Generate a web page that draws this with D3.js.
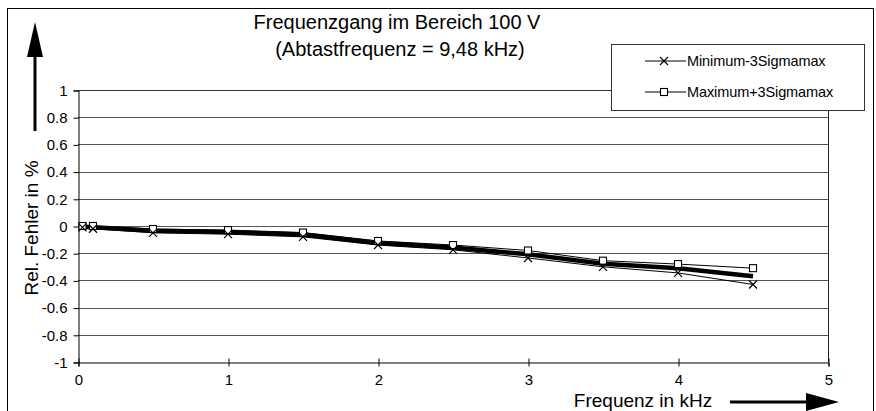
<!DOCTYPE html>
<html><head><meta charset="utf-8">
<script src="https://cdn.jsdelivr.net/npm/d3@7"></script>
<style>body{margin:0;background:#fff}svg{display:block;font-family:"Liberation Sans",Arial,sans-serif}</style>
</head><body><svg id="c" width="876" height="411"></svg>
<script>
const freqs = [0.03, 0.1, 0.5, 1, 1.5, 2, 2.5, 3, 3.5, 4, 4.5];
const minVals = [-0.01, -0.02, -0.05, -0.06, -0.08, -0.14, -0.175, -0.235, -0.3, -0.345, -0.43];
const maxVals = [0, 0, -0.022, -0.03, -0.048, -0.11, -0.14, -0.18, -0.255, -0.28, -0.31];
const meanVals = [-0.005, -0.01, -0.035, -0.045, -0.062, -0.125, -0.158, -0.208, -0.278, -0.31, -0.37];
const yTicks = [1, 0.8, 0.6, 0.4, 0.2, 0, -0.2, -0.4, -0.6, -0.8, -1];
const xTicks = [0, 1, 2, 3, 4, 5];
const titleLines = ["Frequenzgang im Bereich 100 V", "(Abtastfrequenz = 9,48 kHz)"];
const seriesNames = ["Minimum-3Sigmamax", "Maximum+3Sigmamax"];

const svg = d3.select("#c");
const L = 78, R = 828, T = 90, B = 362;
const x = d3.scaleLinear().domain([0, 5]).range([L, R]);
const y = d3.scaleLinear().domain([-1, 1]).range([B, T]);

// outer border
svg.append("rect").attr("x", 7.5).attr("y", 8.5).attr("width", 866).attr("height", 410)
  .attr("fill", "none").attr("stroke", "#000").attr("stroke-width", 1);

// gridlines
svg.append("g").selectAll("line").data(yTicks.filter(d => d !== -1)).join("line")
  .attr("x1", L).attr("x2", R).attr("y1", d => Math.round(y(d)) + 0.5).attr("y2", d => Math.round(y(d)) + 0.5)
  .attr("stroke", d => d === 1 ? "#333" : "#555").attr("stroke-width", 1);
// right border
svg.append("line").attr("x1", R + 0.5).attr("x2", R + 0.5).attr("y1", T).attr("y2", B).attr("stroke", "#222");

// axes
const yAxis = d3.axisLeft(y).tickValues(yTicks).tickFormat(d => String(d)).tickSize(5).tickPadding(6);
const gy = svg.append("g").attr("transform", `translate(${L + 0.5},0.5)`).call(yAxis);
gy.attr("font-size", 15).attr("font-family", "Liberation Sans, Arial");
gy.select(".domain").attr("stroke", "#000");
gy.selectAll("text").attr("fill", "#000");

const xAxis = d3.axisBottom(x).tickValues(xTicks).tickFormat(d3.format("d")).tickSize(4).tickPadding(8);
const gx = svg.append("g").attr("transform", `translate(0.5,${B + 0.5})`).call(xAxis);
gx.attr("font-size", 15).attr("font-family", "Liberation Sans, Arial");
gx.select(".domain").attr("stroke", "#000");
gx.selectAll(".tick line").attr("y1", -4);
gx.selectAll("text").attr("fill", "#000");

const line = d3.line().x(d => x(d[0])).y(d => y(d[1]));
const zip = v => freqs.map((f, i) => [f, v[i]]);

svg.append("path").datum(zip(minVals)).attr("d", line).attr("fill", "none").attr("stroke", "#000").attr("stroke-width", 1);
svg.append("path").datum(zip(maxVals)).attr("d", line).attr("fill", "none").attr("stroke", "#000").attr("stroke-width", 1);
svg.append("path").datum(zip(meanVals)).attr("d", line).attr("fill", "none").attr("stroke", "#000").attr("stroke-width", 4.5);

function xMark(g, cx, cy, s) {
  g.append("path").attr("d", `M${cx - s},${cy - s}L${cx + s},${cy + s}M${cx - s},${cy + s}L${cx + s},${cy - s}`)
    .attr("stroke", "#000").attr("stroke-width", 1.2).attr("fill", "none");
}
function sqMark(g, cx, cy, s) {
  g.append("rect").attr("x", cx - s).attr("y", cy - s).attr("width", 2 * s).attr("height", 2 * s)
    .attr("fill", "#fff").attr("stroke", "#000").attr("stroke-width", 1.1);
}
const gm = svg.append("g");
zip(maxVals).forEach(d => sqMark(gm, x(d[0]), y(d[1]), 3.5));
zip(minVals).forEach(d => xMark(gm, x(d[0]), y(d[1]), 4));

// title
svg.append("text").attr("x", 397).attr("y", 29).attr("text-anchor", "middle").attr("font-size", 20).text(titleLines[0]);
svg.append("text").attr("x", 400).attr("y", 56).attr("text-anchor", "middle").attr("font-size", 20).text(titleLines[1]);

// legend
const lg = svg.append("g");
lg.append("rect").attr("x", 611.5).attr("y", 44.5).attr("width", 253).attr("height", 66)
  .attr("fill", "#fff").attr("stroke", "#333");
[[61, "x"], [92, "s"]].forEach((r, i) => {
  lg.append("line").attr("x1", 645).attr("x2", 686).attr("y1", r[0]).attr("y2", r[0]).attr("stroke", "#000");
  if (r[1] === "x") xMark(lg, 664, r[0], 4); else sqMark(lg, 664, r[0], 3.5);
  lg.append("text").attr("x", 687).attr("y", r[0] + 5).attr("font-size", 14.5).attr("letter-spacing", -0.1).text(seriesNames[i]);
});

// y label with arrow
svg.append("text").attr("transform", "translate(38,228) rotate(-90)").attr("text-anchor", "middle")
  .attr("font-size", 19).text("Rel. Fehler in %");
svg.append("line").attr("x1", 35).attr("x2", 35).attr("y1", 131).attr("y2", 50).attr("stroke", "#000").attr("stroke-width", 3);
svg.append("path").attr("d", "M35,22L43,57L27,57Z").attr("fill", "#000");

// x label with arrow
svg.append("text").attr("x", 643).attr("y", 406.5).attr("text-anchor", "middle").attr("font-size", 19).text("Frequenz in kHz");
svg.append("line").attr("x1", 730).attr("x2", 812).attr("y1", 402).attr("y2", 402).attr("stroke", "#000").attr("stroke-width", 3);
svg.append("path").attr("d", "M839,402L806,393L806,411Z").attr("fill", "#000");
</script></body></html>
